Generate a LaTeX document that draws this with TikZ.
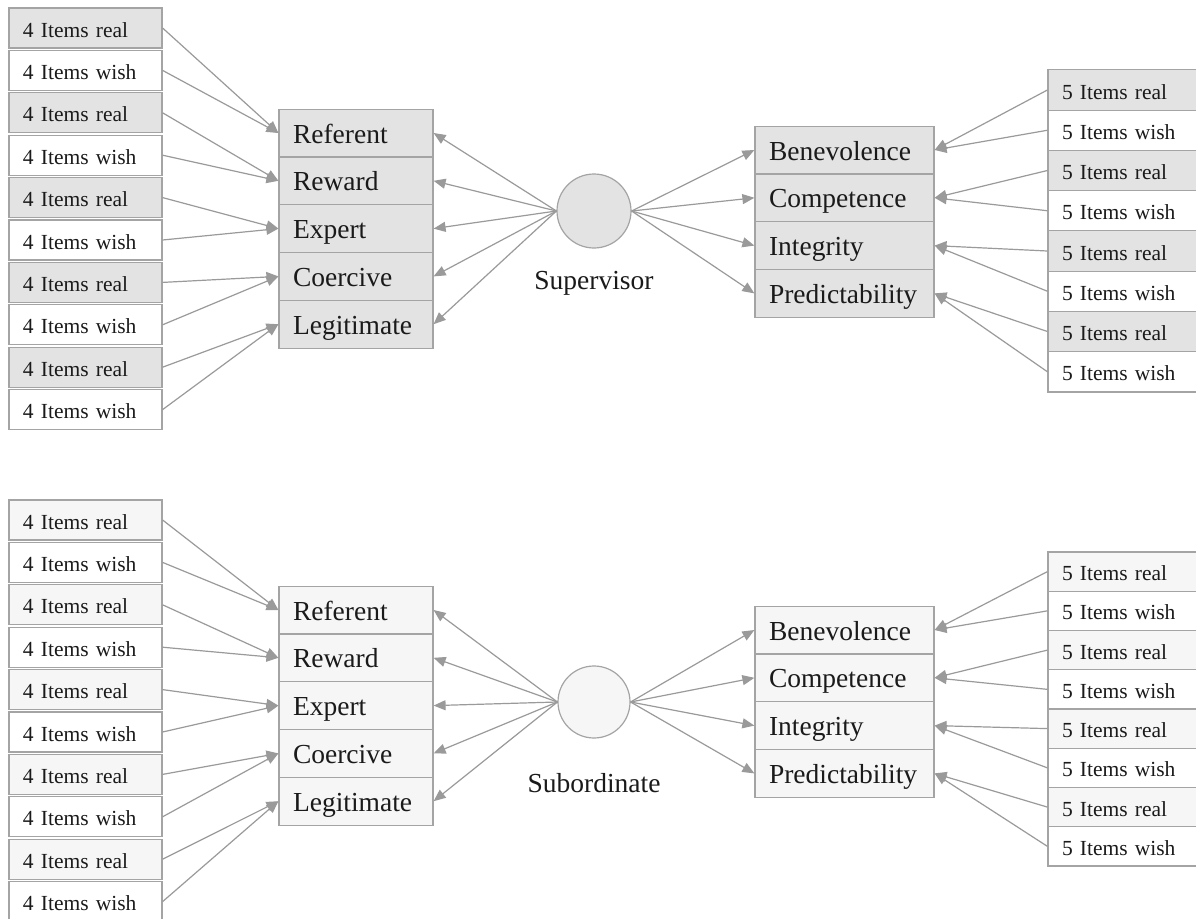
\documentclass[tikz,border=0pt]{standalone}
\usepackage{fontspec}
\setmainfont{Liberation Serif}
\usetikzlibrary{arrows.meta}

\definecolor{boxline}{HTML}{A4A4A4}
\definecolor{arrowline}{HTML}{9A9A9A}
\definecolor{darkfill}{HTML}{E3E3E3}
\definecolor{lightfill}{HTML}{F6F6F6}
\definecolor{ink}{HTML}{1A1A1A}

\tikzset{
  itembox/.style={draw=boxline, line width=1.2bp, text=ink,
    text width=#1, align=left, inner xsep=14bp, inner ysep=2bp,
    text height=23bp, text depth=5bp,
    font=\fontsize{21.5bp}{24bp}\selectfont},
  facet/.style={draw=boxline, line width=1.2bp, text=ink,
    text width=#1, align=left, inner xsep=14bp, inner ysep=2bp,
    text height=26bp, text depth=6bp,
    minimum height=47.8bp, font=\fontsize{27.5bp}{30bp}\selectfont},
  latent/.style={circle, draw=boxline, line width=1.2bp, inner sep=0pt,
    minimum size=#1},
  caption/.style={text=ink, font=\fontsize{27.5bp}{30bp}\selectfont},
  conn/.style={draw=arrowline, line width=1.2bp,
    -{Triangle[length=12bp,width=10bp]}}
}

\begin{document}
\begin{tikzpicture}[x=1bp, y=-1bp]
\useasboundingbox (0,0) rectangle (1196,919);
\clip (0,0) rectangle (1196,919);
\fill[white] (0,0) rectangle (1196,919);

% ---------------- Supervisor model ----------------
\foreach \i in {0,...,9}{
  \ifodd\i \def\lbl{4 Items wish}\def\fc{white}\else \def\lbl{4 Items real}\def\fc{darkfill}\fi
  \node[itembox=125bp, minimum height=40bp, fill=\fc] (tl\i) at (85.5,{28+42.4*\i}) {\lbl};
}
\foreach \t [count=\k from 0] in {Referent,Reward,Expert,Coercive,Legitimate}{
  \node[facet=126bp, fill=darkfill] (tp\k) at (356,{133+47.8*\k}) {\t};
}
\node[latent=74bp, fill=darkfill] (tc) at (594,211) {};
\node[caption] (tlab) at (594,283) {Supervisor};
\foreach \t [count=\k from 0] in {Benevolence,Competence,Integrity,Predictability}{
  \node[facet=151bp, fill=darkfill] (tt\k) at (844.5,{150+47.8*\k}) {\t};
}
\foreach \i in {0,...,7}{
  \ifodd\i \def\lbl{5 Items wish}\def\fc{white}\else \def\lbl{5 Items real}\def\fc{darkfill}\fi
  \node[itembox=132bp, minimum height=40.3bp, fill=\fc] (tr\i) at (1128,{90+40.25*\i}) {\lbl};
}
\foreach \i in {0,...,9}{
  \pgfmathtruncatemacro\k{\i/2}
  \draw[conn] (tl\i.east) -- (tp\k.west);
}
\foreach \k in {0,...,4}{ \draw[conn] (tc.west) -- (tp\k.east); }
\foreach \k in {0,...,3}{ \draw[conn] (tc.east) -- (tt\k.west); }
\foreach \i in {0,...,7}{
  \pgfmathtruncatemacro\k{\i/2}
  \draw[conn] (tr\i.west) -- (tt\k.east);
}

% ---------------- Subordinate model ----------------
\foreach \i in {0,...,9}{
  \ifodd\i \def\lbl{4 Items wish}\def\fc{white}\else \def\lbl{4 Items real}\def\fc{lightfill}\fi
  \node[itembox=125bp, minimum height=40bp, fill=\fc] (bl\i) at (85.5,{520+42.4*\i}) {\lbl};
}
\foreach \t [count=\k from 0] in {Referent,Reward,Expert,Coercive,Legitimate}{
  \node[facet=126bp, fill=lightfill] (bp\k) at (356,{610+47.8*\k}) {\t};
}
\node[latent=72bp, fill=lightfill] (bc) at (594,702) {};
\node[caption] (blab) at (594,783) {Subordinate};
\foreach \t [count=\k from 0] in {Benevolence,Competence,Integrity,Predictability}{
  \node[facet=151bp, fill=lightfill] (bt\k) at (844.5,{630+47.8*\k}) {\t};
}
\foreach \i in {0,...,7}{
  \ifodd\i \def\lbl{5 Items wish}\def\fc{white}\else \def\lbl{5 Items real}\def\fc{lightfill}\fi
  \node[itembox=132bp, minimum height=39.3bp, fill=\fc] (br\i) at (1128,{571.6+39.25*\i}) {\lbl};
}
\foreach \i in {0,...,9}{
  \pgfmathtruncatemacro\k{\i/2}
  \draw[conn] (bl\i.east) -- (bp\k.west);
}
\foreach \k in {0,...,4}{ \draw[conn] (bc.west) -- (bp\k.east); }
\foreach \k in {0,...,3}{ \draw[conn] (bc.east) -- (bt\k.west); }
\foreach \i in {0,...,7}{
  \pgfmathtruncatemacro\k{\i/2}
  \draw[conn] (br\i.west) -- (bt\k.east);
}
\end{tikzpicture}
\end{document}
